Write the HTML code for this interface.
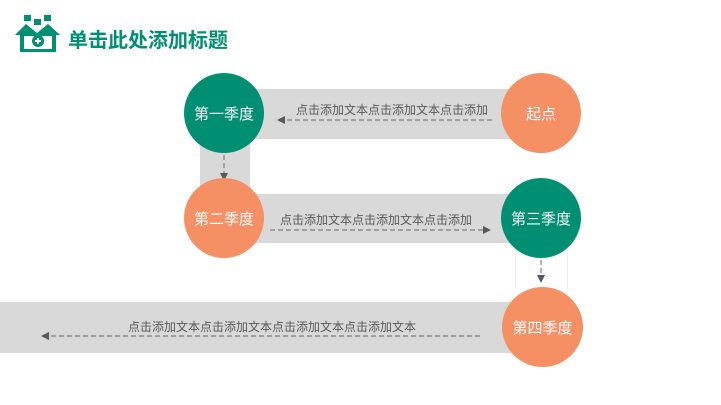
<!DOCTYPE html>
<html><head><meta charset="utf-8"><style>
body{margin:0;width:721px;height:405px;background:#fff;position:relative;overflow:hidden;font-family:"Liberation Sans","Noto Sans CJK SC",sans-serif}
.a{position:absolute}
.band{position:absolute;background:#d9d9d9}
.c{position:absolute;border-radius:50%;color:#fff;font-size:15px;display:flex;align-items:center;justify-content:center}
.g{background:#008f72}.o{background:#f59064}
.t{position:absolute;font-size:12px;color:#595959;white-space:nowrap}
</style></head><body>
<svg class="a" style="left:14px;top:13px" width="48" height="42" viewBox="0 0 48 42">
<rect x="10" y="2" width="7" height="6" fill="#008f72"/><rect x="30" y="2" width="7" height="6" fill="#008f72"/>
<rect x="20" y="6" width="7" height="6" fill="#008f72"/>
<path d="M1 22 L12 11 L23 20 L34 11 L46 22 L42 22 L42 39 L6 39 L6 22Z" fill="#008f72"/>
<rect x="10" y="23" width="28" height="13" fill="#fff"/>
<circle cx="24" cy="28" r="6" fill="#008f72"/><path d="M21 28h6M24 25v6" stroke="#fff" stroke-width="2"/>
</svg>
<div class="a" style="left:68px;top:24px;font-size:20px;font-weight:bold;color:#008f72">单击此处添加标题</div>

<div class="band" style="left:250px;top:89px;width:262px;height:50px"></div>
<div class="band" style="left:200px;top:139px;width:50px;height:50px"></div>
<div class="band" style="left:250px;top:194px;width:262px;height:49px"></div>
<div class="band" style="left:0;top:302px;width:512px;height:51px"></div>
<div class="a" style="left:515px;top:245px;width:51px;height:45px;border-left:1px solid #eee;border-right:1px solid #eee"></div>

<div class="t" style="left:296px;top:101px">点击添加文本点击添加文本点击添加</div>
<div class="t" style="left:280px;top:211px">点击添加文本点击添加文本点击添加</div>
<div class="t" style="left:128px;top:318px">点击添加文本点击添加文本点击添加文本点击添加文本</div>

<svg class="a" style="left:0;top:0" width="721" height="405">
<g stroke="#7f7f7f" stroke-width="1.2" stroke-dasharray="5,3" fill="none">
<line x1="492" y1="120" x2="283" y2="120"/>
<line x1="270" y1="230" x2="484" y2="230"/>
<line x1="480" y1="336" x2="48" y2="336"/>
<line x1="224" y1="155" x2="224" y2="174"/>
<line x1="541" y1="260" x2="541" y2="277"/>
</g>
<g fill="#595959">
<path d="M277 120 l8 -4 v8z"/>
<path d="M491 230 l-8 -4 v8z"/>
<path d="M41 336 l8 -4 v8z"/>
<path d="M224 181 l-4 -8 h8z"/>
<path d="M541 283 l-4 -8 h8z"/>
</g>
</svg>

<div class="c g" style="left:184px;top:73px;width:80px;height:80px">第一季度</div>
<div class="c o" style="left:501px;top:73px;width:80px;height:80px">起点</div>
<div class="c o" style="left:184px;top:178px;width:80px;height:80px">第二季度</div>
<div class="c g" style="left:501px;top:178px;width:80px;height:80px">第三季度</div>
<div class="c o" style="left:502px;top:287px;width:81px;height:80px">第四季度</div>
</body></html>
